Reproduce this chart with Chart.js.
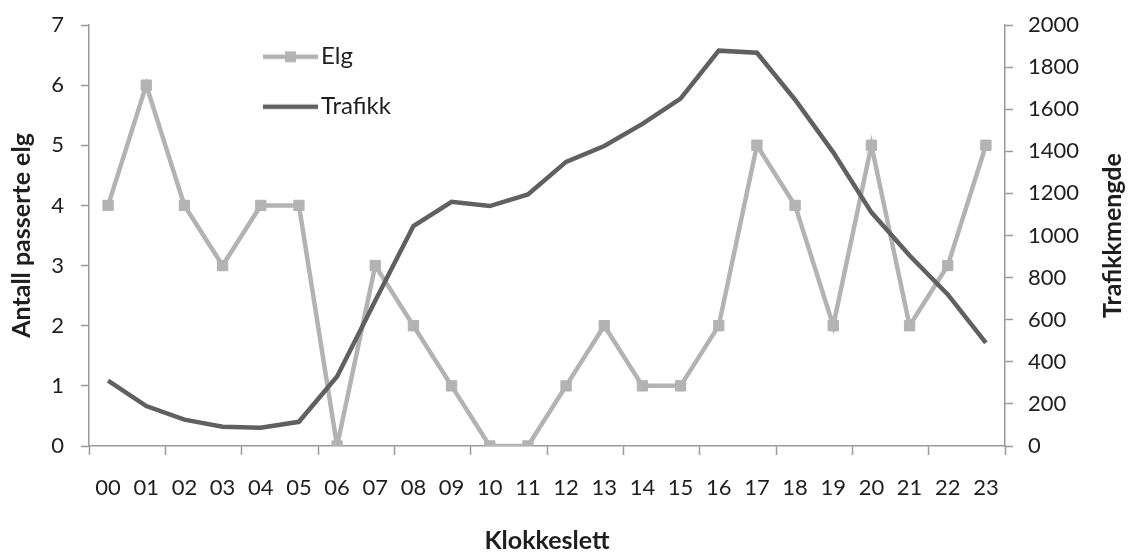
<!DOCTYPE html>
<html>
<head>
<meta charset="utf-8">
<title>Elg og trafikk gjennom døgnet</title>
<script src="https://cdn.jsdelivr.net/npm/chart.js@4.4.1/dist/chart.umd.min.js"></script>
<style>
  html, body { margin: 0; padding: 0; background: #ffffff; }
  #wrap { width: 1131px; height: 552px; }
</style>
</head>
<body>
<div id="wrap"><canvas id="chart" width="1131" height="552"></canvas></div>
<script>
// Hours of the day (category axis)
const hours = ['00','01','02','03','04','05','06','07','08','09','10','11',
               '12','13','14','15','16','17','18','19','20','21','22','23'];

// Number of moose crossings per hour (left axis)
const elg = [4, 6, 4, 3, 4, 4, 0, 3, 2, 1, 0, 0, 1, 2, 1, 1, 2, 5, 4, 2, 5, 2, 3, 5];

// Traffic volume per hour (right axis)
const trafikk = [310, 190, 125, 92, 87, 115, 330, 690, 1045, 1160, 1140, 1195,
                 1350, 1425, 1530, 1650, 1878, 1868, 1645, 1395, 1110, 905, 720, 490];

// Axis ranges and tick steps
const elgTicks = { min: 0, max: 7, step: 1 };
const trafikkTicks = { min: 0, max: 2000, step: 200 };

const ELG_COLOR = '#b3b3b3';
const TRAFIKK_COLOR = '#606060';
const AXIS_COLOR = '#9a9a9a';
const TEXT_COLOR = '#1e1e1e';
const FONT = 'Lato';

// Legend sample images: a line with a square marker, and a plain line
function legendSample(color, withMarker) {
  const c = document.createElement('canvas');
  c.width = 55; c.height = 14;
  const g = c.getContext('2d');
  g.strokeStyle = color;
  g.lineWidth = 4.5;
  g.beginPath(); g.moveTo(0, 7); g.lineTo(55, 7); g.stroke();
  if (withMarker) {
    g.fillStyle = color;
    g.fillRect(27.5 - 5.5, 7 - 5.5, 11, 11);
  }
  return c;
}
const legendImages = [legendSample(ELG_COLOR, true), legendSample(TRAFIKK_COLOR, false)];

// Moves the legend box inside the plot area, to the upper left
const legendPlacement = {
  id: 'legendPlacement',
  afterLayout(chart) {
    const lg = chart.legend;
    if (!lg) return;
    lg.left = 246;
    lg.top = 18.7;
    lg.bottom = chart.chartArea.bottom;
    lg.right = lg.left + lg.width;
  }
};

// Title of the secondary axis, read from bottom to top
const rightTitle = {
  id: 'rightTitle',
  afterDraw(chart) {
    const ctx = chart.ctx;
    const y = (chart.chartArea.top + chart.chartArea.bottom) / 2;
    ctx.save();
    ctx.translate(1113, y);
    ctx.rotate(-Math.PI / 2);
    ctx.font = 'bold 25px ' + FONT;
    ctx.fillStyle = TEXT_COLOR;
    ctx.textAlign = 'center';
    ctx.textBaseline = 'middle';
    ctx.fillText('Trafikkmengde', 0, 0);
    ctx.restore();
  }
};

// Fixed box sizes for the value axes, without extra room above the top label
function fitValueAxis(width) {
  return (scale) => {
    scale.width = width;
    scale.paddingTop = 10;
    scale.paddingBottom = 10;
  };
}

new Chart(document.getElementById('chart'), {
  type: 'line',
  data: {
    labels: hours,
    datasets: [
      {
        label: 'Elg',
        data: elg,
        yAxisID: 'yElg',
        order: 1,
        borderColor: ELG_COLOR,
        backgroundColor: ELG_COLOR,
        borderWidth: 4.5,
        pointStyle: 'rect',
        pointRadius: 7.3,
        pointBorderWidth: 1,
        pointBorderColor: ELG_COLOR,
        pointBackgroundColor: ELG_COLOR,
        tension: 0,
        fill: false
      },
      {
        label: 'Trafikk',
        data: trafikk,
        yAxisID: 'yTrafikk',
        order: 0,
        borderColor: TRAFIKK_COLOR,
        backgroundColor: TRAFIKK_COLOR,
        borderWidth: 4.5,
        pointRadius: 0,
        borderJoinStyle: 'miter',
        tension: 0,
        fill: false
      }
    ]
  },
  options: {
    responsive: false,
    animation: false,
    events: [],
    layout: { padding: { top: 25, left: 0, right: 0, bottom: 0 } },
    plugins: {
      tooltip: { enabled: false },
      legend: {
        display: true,
        position: 'chartArea',
        align: 'start',
        labels: {
          font: { family: FONT, size: 24 },
          color: TEXT_COLOR,
          usePointStyle: true,
          pointStyleWidth: 37,
          padding: 26,
          sort: (a, b) => a.datasetIndex - b.datasetIndex,
          generateLabels(chart) {
            const items = Chart.defaults.plugins.legend.labels.generateLabels(chart);
            items.forEach(it => { it.pointStyle = legendImages[it.datasetIndex]; });
            return items;
          }
        }
      }
    },
    scales: {
      x: {
        type: 'category',
        offset: true,
        grid: {
          display: true,
          offset: true,
          drawOnChartArea: false,
          drawTicks: true,
          tickLength: 9,
          tickWidth: 1.5,
          tickColor: (c) => (c.index === undefined || c.index % 2 === 0) ? AXIS_COLOR : 'rgba(0,0,0,0)'
        },
        border: { display: true, color: AXIS_COLOR, width: 1.5 },
        ticks: {
          autoSkip: false,
          maxRotation: 0,
          padding: 20,
          color: TEXT_COLOR,
          font: { family: FONT, size: 22 }
        },
        title: {
          display: true,
          text: 'Klokkeslett',
          color: TEXT_COLOR,
          font: { family: FONT, size: 25, weight: 'bold', lineHeight: 1 },
          padding: { top: 0, bottom: -1 }
        },
        afterFit(scale) { scale.height = 106; }
      },
      yElg: {
        type: 'linear',
        position: 'left',
        min: elgTicks.min,
        max: elgTicks.max,
        grid: {
          drawOnChartArea: false,
          drawTicks: true,
          tickLength: 8,
          tickWidth: 1.5,
          tickColor: AXIS_COLOR
        },
        border: { display: true, color: AXIS_COLOR, width: 1.5 },
        ticks: {
          stepSize: elgTicks.step,
          padding: 17,
          color: TEXT_COLOR,
          font: { family: FONT, size: 22 }
        },
        title: {
          display: true,
          text: 'Antall passerte elg',
          color: TEXT_COLOR,
          font: { family: FONT, size: 25, weight: 'bold' },
          padding: { top: 7, bottom: 0 }
        },
        afterFit: fitValueAxis(89)
      },
      yTrafikk: {
        type: 'linear',
        position: 'right',
        min: trafikkTicks.min,
        max: trafikkTicks.max,
        grid: {
          drawOnChartArea: false,
          drawTicks: true,
          tickLength: 8,
          tickWidth: 1.5,
          tickColor: AXIS_COLOR
        },
        border: { display: true, color: AXIS_COLOR, width: 1.5 },
        ticks: {
          stepSize: trafikkTicks.step,
          padding: 15,
          color: TEXT_COLOR,
          font: { family: FONT, size: 22 },
          callback: (v) => String(v)
        },
        title: { display: false },
        afterFit: fitValueAxis(126)
      }
    }
  },
  plugins: [legendPlacement, rightTitle]
});
</script>
</body>
</html>
